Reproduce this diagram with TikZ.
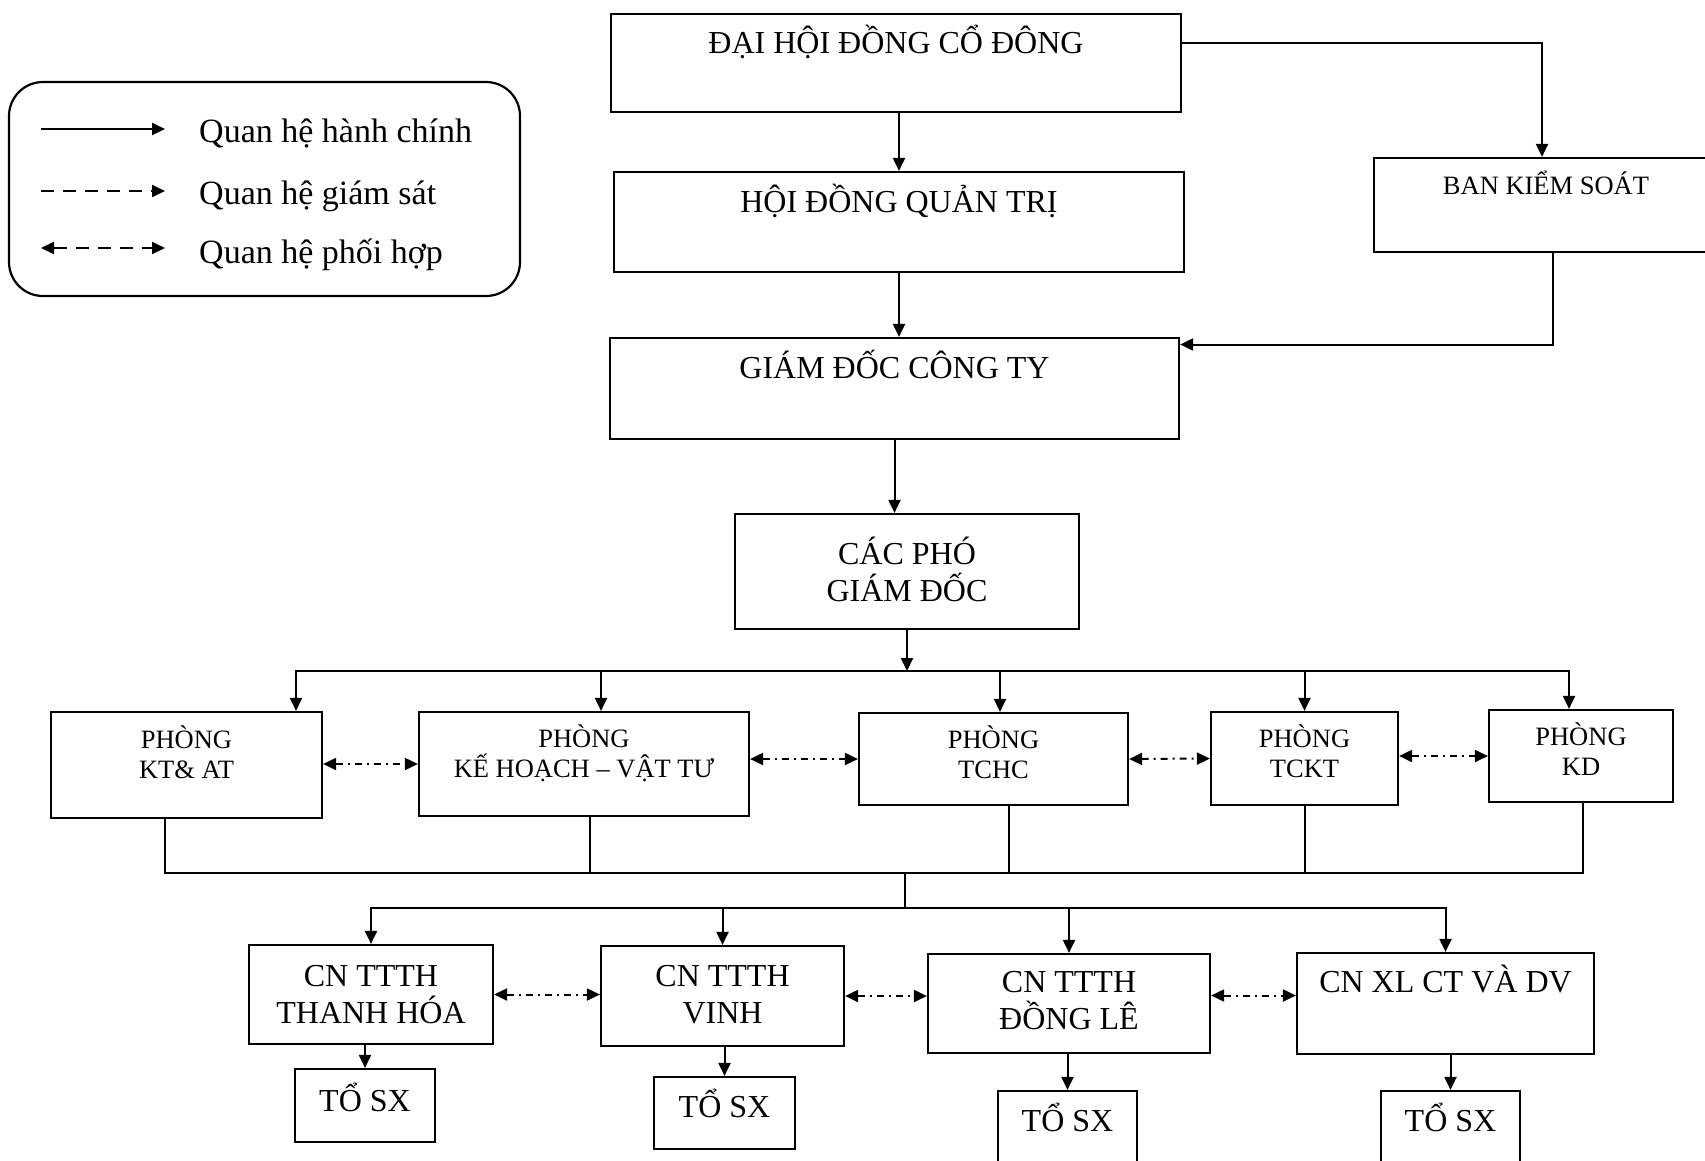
\documentclass[tikz,border=0pt]{standalone}
\usepackage{fontspec}
\setmainfont{Liberation Serif}
\usepackage{tikz}
\usetikzlibrary{arrows.meta}
\pgfdeclarelayer{edgelayer}
\pgfdeclarelayer{nodelayer}
\pgfsetlayers{edgelayer,nodelayer,main}
\newcommand{\bigboxfont}{\fontsize{32}{37}\selectfont}
\newcommand{\smallboxfont}{\fontsize{26.5}{30}\selectfont}
\newcommand{\legendfont}{\fontsize{34}{40}\selectfont}
\tikzstyle{box}=[rectangle, draw=black, fill=white, line width=2.2pt, inner sep=0pt, align=center, font=\bigboxfont]
\tikzstyle{smallbox}=[box, font=\smallboxfont]
\tikzstyle{legendtext}=[anchor=base west, inner sep=0pt, font=\legendfont]
\tikzstyle{edge}=[draw=black, line width=2pt]
\tikzstyle{arrowedge}=[edge, -{Triangle[length=13pt,width=12pt]}]
\tikzstyle{twoarrowedge}=[edge, {Triangle[length=13pt,width=12pt]}-{Triangle[length=13pt,width=12pt]}]
\tikzstyle{linkedge}=[twoarrowedge, dash pattern=on 7pt off 5pt on 2pt off 5pt]
\begin{document}
\begin{tikzpicture}[x=1pt, y=-1pt]
	\useasboundingbox (0,0) rectangle (1705,1160);
	\begin{pgfonlayer}{nodelayer}
		\node [style=box, minimum width=570pt, text height=39pt, text depth=59pt] (1) at (896, 63) {ĐẠI HỘI ĐỒNG CỔ ĐÔNG};
		\node [style=box, minimum width=570pt, text height=40pt, text depth=60pt] (2) at (899, 222) {HỘI ĐỒNG QUẢN TRỊ};
		\node [style=box, minimum width=569pt, text height=40pt, text depth=61pt] (3) at (894.5, 388.5) {GIÁM ĐỐC CÔNG TY};
		\node [style=smallbox, minimum width=344pt, text height=36pt, text depth=58pt] (4) at (1546, 205) {BAN KIỂM SOÁT};
		\node [style=box, minimum width=344pt, text height=87pt, text depth=28pt] (5) at (907, 571.5) {CÁC PHÓ\\GIÁM ĐỐC};
		\node [style=smallbox, minimum width=271pt, text height=66pt, text depth=40pt] (6) at (186.5, 765) {PHÒNG\\KT\& AT};
		\node [style=smallbox, minimum width=330pt, text height=65pt, text depth=39pt] (7) at (584, 764) {PHÒNG\\KẾ HOẠCH – VẬT TƯ};
		\node [style=smallbox, minimum width=269pt, text height=65pt, text depth=27pt] (8) at (993.5, 759) {PHÒNG\\TCHC};
		\node [style=smallbox, minimum width=187pt, text height=65pt, text depth=28pt] (9) at (1304.5, 758.5) {PHÒNG\\TCKT};
		\node [style=smallbox, minimum width=184pt, text height=65pt, text depth=27pt] (10) at (1581, 756) {PHÒNG\\KD};
		\node [style=box, minimum width=244pt, text height=78pt, text depth=21pt] (11) at (371, 994.5) {CN TTTH\\THANH HÓA};
		\node [style=box, minimum width=243pt, text height=77pt, text depth=23pt] (12) at (722.5, 996) {CN TTTH\\VINH};
		\node [style=box, minimum width=282pt, text height=75pt, text depth=24pt] (13) at (1069, 1003.5) {CN TTTH\\ĐỒNG LÊ};
		\node [style=box, minimum width=297pt, text height=39pt, text depth=62pt] (14) at (1445.5, 1003.5) {CN XL CT VÀ DV};
		\node [style=box, minimum width=140pt, text height=42pt, text depth=31pt] (15) at (365, 1105.5) {TỔ SX};
		\node [style=box, minimum width=141pt, text height=40pt, text depth=32pt] (16) at (724.5, 1113) {TỔ SX};
		\node [style=box, minimum width=139pt, text height=40pt, text depth=44pt] (17) at (1067.5, 1133) {TỔ SX};
		\node [style=box, minimum width=139pt, text height=40pt, text depth=44pt] (18) at (1450.5, 1133) {TỔ SX};
		\node [draw=black, line width=2.2pt, rounded corners=34pt, minimum width=511pt, minimum height=214pt] (19) at (264.5, 189) {};
		\node [style=legendtext] (20) at (199, 142) {Quan hệ hành chính};
		\node [style=legendtext] (21) at (199, 204) {Quan hệ giám sát};
		\node [style=legendtext] (22) at (199, 263) {Quan hệ phối hợp};
	\end{pgfonlayer}
	\begin{pgfonlayer}{edgelayer}
		\coordinate (c1) at (296, 671);
		\coordinate (c2) at (1569, 671);
		\coordinate (d1) at (165, 873);
		\coordinate (d2) at (1583, 873);
		\coordinate (d3) at (905, 873);
		\coordinate (e1) at (905, 908);
		% top
		\draw [style=arrowedge] (1.south -| 2.north) to (2.north);
		\draw [style=arrowedge] (2.south) to (2.south |- 3.north);
		\draw [style=arrowedge] (3.south) to (3.south |- 5.north);
		\draw [style=arrowedge] ([yshift=20pt]1.east) -| ([xshift=-4pt]4.north);
		\draw [style=arrowedge] ([xshift=7pt]4.south) |- ([yshift=44pt]3.east);
		% phong
		\draw [style=arrowedge] (5.south) to (5.south |- c1);
		\draw [style=twoarrowedge] (6.north -| c1) |- (c2) -- (10.north -| c2);
		\draw [style=arrowedge] ([xshift=17pt]7.north |- c1) to ([xshift=17pt]7.north);
		\draw [style=arrowedge] ([xshift=6.5pt]8.north |- c1) to ([xshift=6.5pt]8.north);
		\draw [style=arrowedge] (9.north |- c1) to (9.north);
		\draw [style=linkedge] (6.east |- 7.west) to (7.west);
		\draw [style=linkedge] (7.east |- 8.west) to (8.west);
		\draw [style=linkedge] (8.east) to (9.west);
		\draw [style=linkedge] (9.east |- 10.west) to (10.west);
		\draw [style=edge] (d1 |- 6.south) -- (d1) -- (d2) -- (d2 |- 10.south);
		\draw [style=edge] ([xshift=6pt]7.south) to ([xshift=6pt]7.south |- d1);
		\draw [style=edge] ([xshift=15.5pt]8.south) to ([xshift=15.5pt]8.south |- d1);
		\draw [style=edge] (9.south) to (9.south |- d1);
		% chi nhanh
		\draw [style=edge] (d3) to (e1);
		\draw [style=twoarrowedge] (11.north) |- (e1) -| (14.north);
		\draw [style=arrowedge] (12.north |- e1) to (12.north);
		\draw [style=arrowedge] (13.north |- e1) to (13.north);
		\draw [style=linkedge] (11.east) to (11.east -| 12.west);
		\draw [style=linkedge] (12.east) to (12.east -| 13.west);
		\draw [style=linkedge] ([yshift=8pt]13.east) to ([yshift=8pt]14.west);
		\draw [style=arrowedge] (11.south -| 15.north) to (15.north);
		\draw [style=arrowedge] (12.south -| 16.north) to (16.north);
		\draw [style=arrowedge] (13.south -| 17.north) to (17.north);
		\draw [style=arrowedge] (14.south -| 18.north) to (18.north);
		% legend
		\draw [style=arrowedge] ([xshift=-158pt, yshift=13pt]20.base west) to ([xshift=-34pt, yshift=13pt]20.base west);
		\draw [style=arrowedge, dash pattern=on 13pt off 9pt] ([xshift=-158pt, yshift=13pt]21.base west) to ([xshift=-34pt, yshift=13pt]21.base west);
		\draw [style=twoarrowedge, dash pattern=on 13pt off 9pt] ([xshift=-158pt, yshift=15pt]22.base west) to ([xshift=-34pt, yshift=15pt]22.base west);
	\end{pgfonlayer}
\end{tikzpicture}
\end{document}
